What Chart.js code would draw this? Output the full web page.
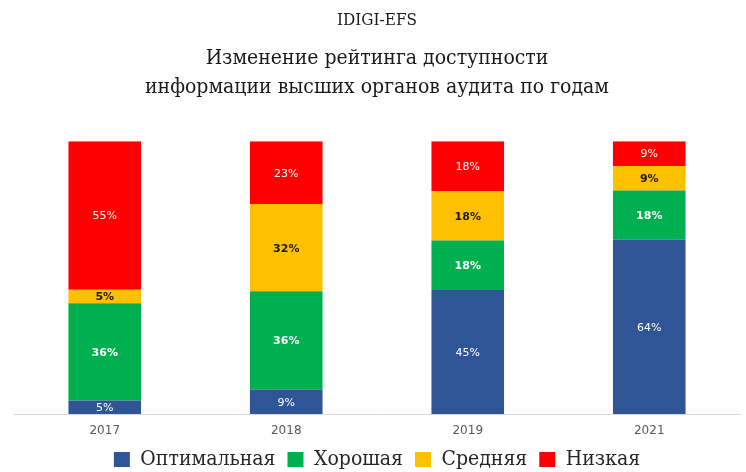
<!DOCTYPE html>
<html>
<head>
    <title>IDIGI-EFS</title>
    <style>
        body {
            margin: 0;
            padding: 0;
            background-color: #ffffff;
        }
    </style>
    <script src="https://cdn.jsdelivr.net/npm/chart.js"></script>
</head>
<body>
    <canvas id="rating-chart" width="746" height="472"></canvas>

<script>
    // Data (percent of audit bodies)
    var years = ['2017', '2018', '2019', '2021'];
    var optimal = [5, 9, 45, 64];
    var good = [36, 36, 18, 18];
    var average = [5, 32, 18, 9];
    var low = [55, 23, 18, 9];

    var seriesNames = ['Оптимальная', 'Хорошая', 'Средняя', 'Низкая'];
    var seriesColors = ['#2f5597', '#00b050', '#ffc000', '#ff0000'];
    var labelColors = ['#ffffff', '#ffffff', '#1a1a1a', '#ffffff'];
    var labelBold = [false, true, true, false];

    var allSeries = [optimal, good, average, low];

    // each bar is shown as a 100% column, so scale values by the year's total
    var totals = years.map(function (y, i) {
        return optimal[i] + good[i] + average[i] + low[i];
    });

    var datasets = allSeries.map(function (values, s) {
        return {
            label: seriesNames[s],
            data: values.map(function (v, i) { return v / totals[i] * 100; }),
            raw: values,
            backgroundColor: seriesColors[s],
            borderWidth: 0,
            barPercentage: 0.4,
            categoryPercentage: 1.0
        };
    });

    // Draw the percent labels in the middle of each segment
    var segmentLabels = {
        id: 'segmentLabels',
        afterDatasetsDraw: function (chart) {
            var ctx = chart.ctx;
            ctx.save();
            ctx.textAlign = 'center';
            ctx.textBaseline = 'middle';
            chart.data.datasets.forEach(function (ds, s) {
                var meta = chart.getDatasetMeta(s);
                ctx.fillStyle = labelColors[s];
                ctx.font = (labelBold[s] ? 'bold ' : '') + '11px "DejaVu Sans"';
                meta.data.forEach(function (bar, i) {
                    var cy = (bar.y + bar.base) / 2;
                    ctx.fillText(ds.raw[i] + '%', bar.x, cy + 1);
                });
            });
            ctx.restore();
        }
    };

    // keep the legend small in the layout, then nudge its top
    var legendHeight = {
        id: 'legendHeight',
        afterInit: function (chart) {
            var legend = chart.legend;
            var fit = legend.fit;
            legend.fit = function () {
                fit.call(this);
                this.height = 34;
            };
        },
        afterLayout: function (chart) {
            chart.legend.top -= 1;
        }
    };

    var ctx = document.getElementById('rating-chart').getContext('2d');
    var myChart = new Chart(ctx, {
        type: 'bar',
        data: {
            labels: years,
            datasets: datasets
        },
        plugins: [segmentLabels, legendHeight],
        options: {
            responsive: false,
            animation: false,
            layout: {
                padding: { left: 14, right: 6, top: 0, bottom: 0 }
            },
            plugins: {
                title: {
                    display: true,
                    text: 'IDIGI-EFS',
                    color: '#1a1a1a',
                    font: { family: '"DejaVu Serif Condensed"', size: 17, weight: 'normal' },
                    padding: { top: 10, bottom: 14 }
                },
                subtitle: {
                    display: true,
                    text: ['Изменение рейтинга доступности', 'информации высших органов аудита по годам'],
                    color: '#1a1a1a',
                    font: { family: '"DejaVu Serif Condensed"', size: 21, lineHeight: 1.38 },
                    padding: { top: 0, bottom: 39 }
                },
                legend: {
                    position: 'bottom',
                    labels: {
                        boxWidth: 16,
                        boxHeight: 15,
                        padding: 12,
                        color: '#262626',
                        font: { family: '"DejaVu Serif Condensed"', size: 21 }
                    }
                },
                tooltip: { enabled: false }
            },
            scales: {
                x: {
                    stacked: true,
                    grid: { display: false, drawTicks: false },
                    border: { color: '#d9d9d9' },
                    ticks: {
                        color: '#595959',
                        font: { family: '"DejaVu Sans"', size: 12 },
                        padding: 10
                    },
                    afterFit: function (scale) {
                        scale.height = 24;
                    }
                },
                y: {
                    stacked: true,
                    display: false,
                    min: 0,
                    max: 100
                }
            }
        }
    });
</script>

</body>
</html>
